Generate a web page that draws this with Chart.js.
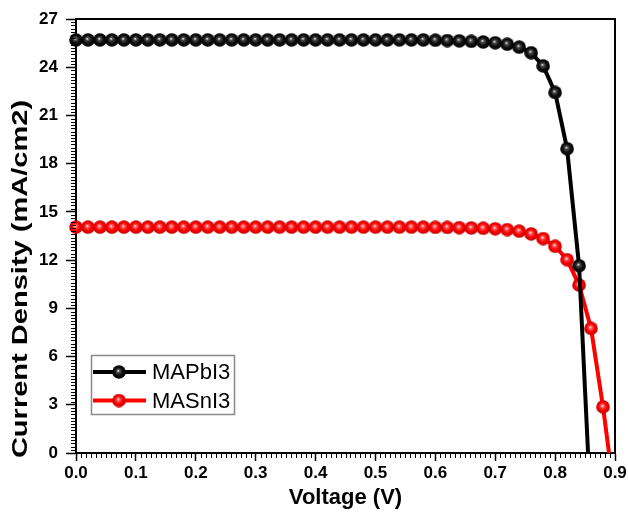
<!DOCTYPE html>
<html>
<head>
<meta charset="utf-8">
<script src="https://cdn.jsdelivr.net/npm/chart.js@4.4.1/dist/chart.umd.min.js"></script>
<style>
html,body{margin:0;padding:0;background:#fff;}
#wrap{width:628px;height:514px;position:relative;}
</style>
</head>
<body>
<div id="wrap"><canvas id="c" width="628" height="514"></canvas></div>
<script>
// ---- data ----
const seriesNames = ['MAPbI3', 'MASnI3'];
const voltagePb = [0.00,0.02,0.04,0.06,0.08,0.10,0.12,0.14,0.16,0.18,0.20,0.22,0.24,0.26,0.28,0.30,0.32,0.34,0.36,0.38,0.40,0.42,0.44,0.46,0.48,0.50,0.52,0.54,0.56,0.58,0.60,0.62,0.64,0.66,0.68,0.70,0.72,0.74,0.76,0.78,0.80,0.82,0.84,0.855];
const currentPb = [25.70,25.70,25.70,25.70,25.70,25.70,25.70,25.70,25.70,25.70,25.70,25.70,25.70,25.70,25.70,25.70,25.70,25.70,25.70,25.70,25.70,25.70,25.70,25.70,25.70,25.70,25.70,25.70,25.70,25.70,25.68,25.66,25.64,25.61,25.57,25.52,25.43,25.25,24.90,24.08,22.43,18.93,11.65,0];
const voltageSn = [0.00,0.02,0.04,0.06,0.08,0.10,0.12,0.14,0.16,0.18,0.20,0.22,0.24,0.26,0.28,0.30,0.32,0.34,0.36,0.38,0.40,0.42,0.44,0.46,0.48,0.50,0.52,0.54,0.56,0.58,0.60,0.62,0.64,0.66,0.68,0.70,0.72,0.74,0.76,0.78,0.80,0.82,0.84,0.86,0.88,0.89];
const currentSn = [14.05,14.05,14.05,14.05,14.05,14.05,14.05,14.05,14.05,14.05,14.05,14.05,14.05,14.05,14.05,14.05,14.05,14.05,14.05,14.05,14.05,14.05,14.05,14.05,14.05,14.05,14.05,14.05,14.05,14.05,14.04,14.03,14.02,14.00,13.98,13.95,13.90,13.80,13.63,13.34,12.86,12.03,10.45,7.75,2.87,0];
const xTickLabels = ['0.0','0.1','0.2','0.3','0.4','0.5','0.6','0.7','0.8','0.9'];
const yTickLabels = ['0','3','6','9','12','15','18','21','24','27'];
const xTitle = 'Voltage (V)';
const yTitle = 'Current Density (mA/cm2)';

// ---- styling ----
const FONT = "'Liberation Sans', Arial, sans-serif";
function makeBall(c0, c1, c2, c3) {
  const size = 14, r = size / 2;
  const cv = document.createElement('canvas');
  cv.width = size; cv.height = size;
  const g = cv.getContext('2d');
  const grad = g.createRadialGradient(r - 0.8, r - 1.2, 0.2, r, r, r);
  grad.addColorStop(0, c0);
  grad.addColorStop(0.18, c1);
  grad.addColorStop(0.55, c2);
  grad.addColorStop(1, c3);
  g.fillStyle = grad;
  g.beginPath(); g.arc(r, r, r - 0.2, 0, Math.PI * 2); g.fill();
  return cv;
}
const ballBlack = makeBall('#ffffff', '#505050', '#101010', '#000000');
const ballRed = makeBall('#ffffff', '#ff6060', '#ff0000', '#c00000');

function pts(xs, ys) { return xs.map((x, i) => ({x: x, y: ys[i]})); }
const lastNone = n => ctx => (ctx.dataIndex === n - 1 ? 0 : 7);

const minorTicks = {
  id: 'minorTicks',
  afterDraw(chart) {
    const {ctx, chartArea: a, scales: {x, y}} = chart;
    ctx.save();
    ctx.strokeStyle = '#000';
    ctx.lineWidth = 1;
    ctx.beginPath();
    for (let i = 0; i <= 108; i++) {
      if (i % 12 === 0) continue;
      const px = Math.round(x.getPixelForValue(i * 0.9 / 108)) + 0.5;
      ctx.moveTo(px, a.bottom); ctx.lineTo(px, a.bottom + 5);
    }
    for (let i = 0; i <= 135; i++) {
      if (i % 15 === 0) continue;
      const py = Math.round(y.getPixelForValue(i * 0.2)) + 0.5;
      ctx.moveTo(a.left, py); ctx.lineTo(a.left - 5, py);
    }
    ctx.stroke();
    // frame top + right
    ctx.lineWidth = 2;
    ctx.beginPath();
    ctx.moveTo(a.left, a.top); ctx.lineTo(a.right, a.top); ctx.lineTo(a.right, a.bottom);
    ctx.stroke();
    // y-axis title (stretched along its length as in the reference)
    ctx.fillStyle = '#000';
    ctx.font = "bold 22px " + FONT;
    ctx.textAlign = 'center';
    ctx.textBaseline = 'middle';
    ctx.translate(21, 279);
    ctx.rotate(-Math.PI / 2);
    ctx.scale(1.32, 1);
    ctx.fillText(yTitle, 0, 0);
    ctx.restore();
  }
};

const boxLegend = {
  id: 'boxLegend',
  afterDraw(chart) {
    const ctx = chart.ctx;
    const balls = [ballBlack, ballRed];
    ctx.save();
    ctx.strokeStyle = '#8a8a8a';
    ctx.lineWidth = 1.5;
    ctx.strokeRect(91.5, 355.5, 143, 59);
    chart.data.datasets.forEach((ds, i) => {
      const yy = 372 + i * 28.5;
      ctx.strokeStyle = ds.borderColor;
      ctx.lineWidth = 4;
      ctx.beginPath(); ctx.moveTo(93, yy); ctx.lineTo(146, yy); ctx.stroke();
      ctx.drawImage(balls[i], 119 - 7, yy - 7);
      ctx.fillStyle = '#000';
      ctx.font = "22px " + FONT;
      ctx.textBaseline = 'middle';
      ctx.textAlign = 'left';
      ctx.fillText(ds.label, 152, yy + 1);
    });
    ctx.restore();
  }
};

new Chart(document.getElementById('c'), {
  type: 'line',
  data: {
    datasets: [
      {label: seriesNames[0], data: pts(voltagePb, currentPb), borderColor: '#000000', backgroundColor: '#000000',
       borderWidth: 4, pointStyle: ballBlack, pointRadius: lastNone(voltagePb.length), tension: 0, clip: false},
      {label: seriesNames[1], data: pts(voltageSn, currentSn), borderColor: '#ff0000', backgroundColor: '#ff0000',
       borderWidth: 4, pointStyle: ballRed, pointRadius: lastNone(voltageSn.length), tension: 0, clip: false}
    ]
  },
  options: {
    responsive: false,
    animation: false,
    devicePixelRatio: 1,
    layout: {padding: {left: 0, right: 13, top: 19, bottom: 0}},
    plugins: {legend: {display: false}, tooltip: {enabled: false}},
    scales: {
      x: {
        type: 'linear', min: 0, max: 0.9,
        afterFit(s) { s.height = 61; s.paddingLeft = 0; s.paddingRight = 0; },
        afterBuildTicks(s) { s.ticks = xTickLabels.map((t, i) => ({value: i / 10})); },
        ticks: {
          callback: (v, i) => xTickLabels[i],
          color: '#000', font: {family: FONT, size: 17, weight: 'bold'}, padding: 2, maxRotation: 0
        },
        grid: {drawOnChartArea: false, tickLength: 8, tickColor: '#000', tickWidth: 1.5},
        border: {display: true, color: '#000', width: 2},
        title: {display: true, text: xTitle, color: '#000', font: {family: FONT, size: 22, weight: 'bold'}, padding: {top: 0, bottom: 3}}
      },
      y: {
        type: 'linear', min: 0, max: 27,
        afterFit(s) { s.width = 76; s.paddingTop = 0; s.paddingBottom = 0; },
        afterBuildTicks(s) { s.ticks = yTickLabels.map((t, i) => ({value: i * 3})); },
        ticks: {
          callback: (v, i) => yTickLabels[i],
          color: '#000', font: {family: FONT, size: 17, weight: 'bold'}, padding: 8
        },
        grid: {drawOnChartArea: false, tickLength: 10, tickColor: '#000', tickWidth: 1.5},
        border: {display: true, color: '#000', width: 2},
        title: {display: false, text: yTitle}
      }
    }
  },
  plugins: [minorTicks, boxLegend]
});
</script>
</body>
</html>
